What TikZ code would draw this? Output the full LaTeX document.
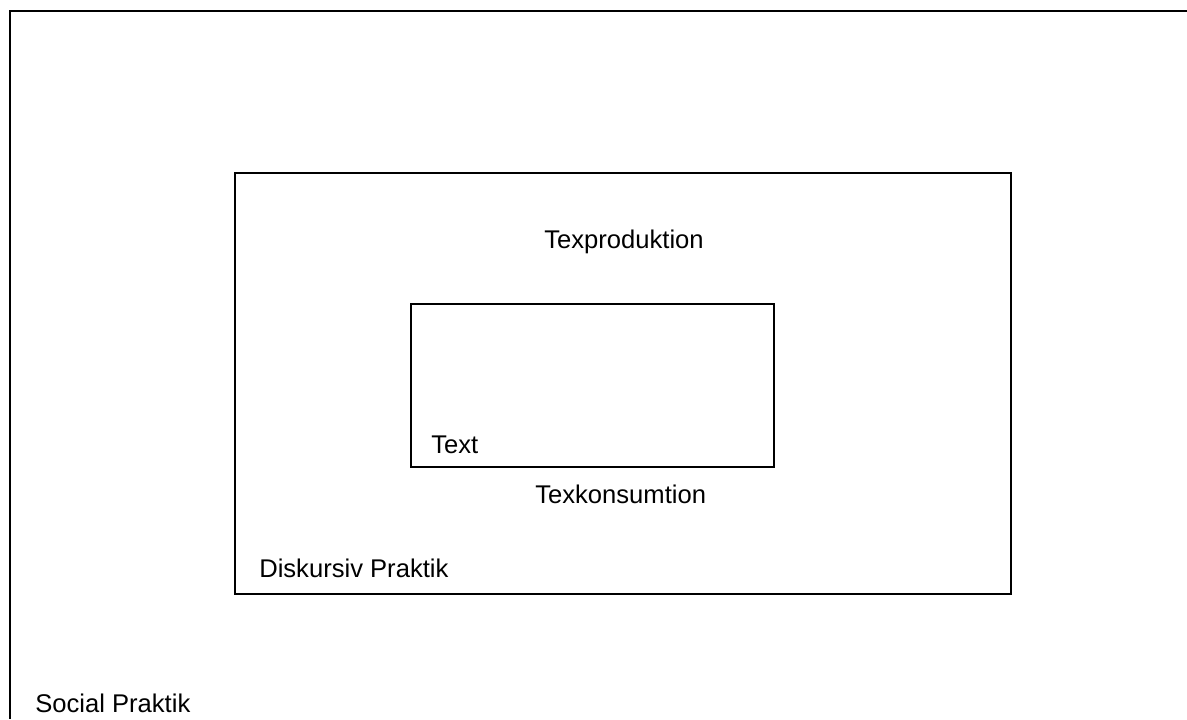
\documentclass[tikz,border=0pt]{standalone}
\usepackage{fontspec}
\setmainfont{Liberation Sans}
\tikzset{
  frame/.style={draw=black, line width=1.5pt},
  lbl/.style={anchor=base west, inner sep=0pt, font=\fontsize{19.2pt}{23pt}\selectfont}
}
\begin{document}
\begin{tikzpicture}[x=0.75pt, y=-0.75pt]
\useasboundingbox (0,0) rectangle (1187,719);
% outer frame (only top and left edges visible)
\coordinate (otl) at (10,11);
\coordinate (otr) at (1187,11);
\coordinate (obl) at (10,719);
\draw[frame] (otr) -- (otl) -- (obl);
% middle frame
\node[frame, minimum width=776*0.75pt, minimum height=421*0.75pt, inner sep=0pt, anchor=north west] (mid) at (234,171.5) {};
% inner frame
\node[frame, minimum width=363*0.75pt, minimum height=163*0.75pt, inner sep=0pt, anchor=north west] (inn) at (410,302.5) {};
% labels
\node[lbl] (prod) at (544,248) {Texproduktion};
\node[lbl] (text) at (431,453) {Text};
\node[lbl] (kons) at (535,503) {Texkonsumtion};
\node[lbl] (disk) at (259,577) {Diskursiv Praktik};
\node[lbl] (soc) at (35,712) {Social Praktik};
\end{tikzpicture}
\end{document}
